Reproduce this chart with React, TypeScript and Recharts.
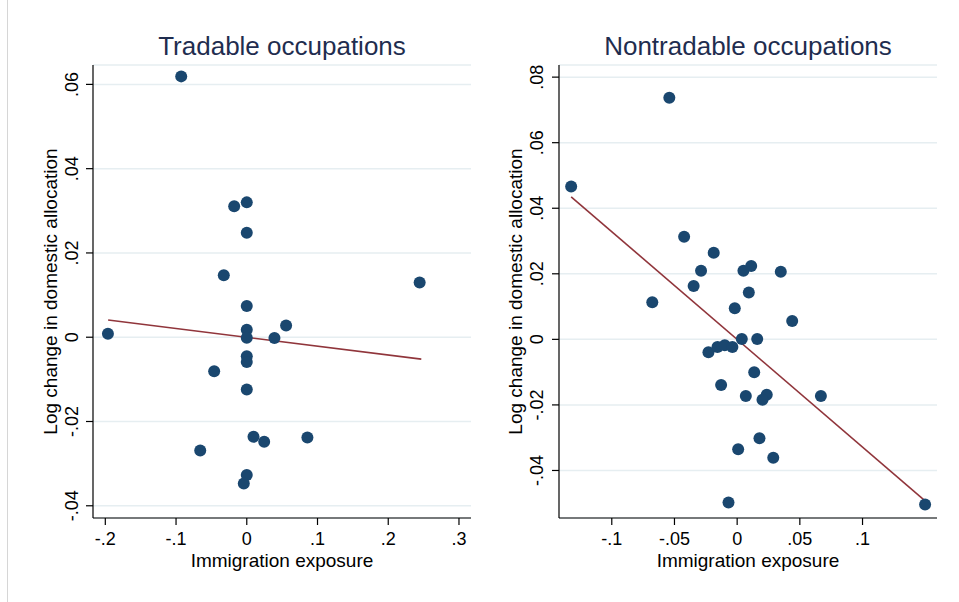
import React from "react";
import { ScatterChart, Scatter, XAxis, YAxis, CartesianGrid } from "recharts";

// Tradable occupations: immigration exposure vs. log change in domestic allocation
const tradableExposure = [
  -0.0927, -0.0178, 0, 0, -0.0325, 0.2444, 0, -0.1963, 0, 0.0556, 0,
  0.0391, 0, 0, -0.0461, 0, 0.0095, 0.0246, 0.0857, -0.0658, 0, -0.0042,
];
const tradableChange = [
  0.0619, 0.0311, 0.032, 0.0248, 0.0147, 0.013, 0.0074, 0.0008, 0.0018, 0.0028, -0.0001,
  -0.0002, -0.0045, -0.0059, -0.0081, -0.0124, -0.0236, -0.0248, -0.0238, -0.0269, -0.0327, -0.0347,
];
const tradableFitX = [-0.196, 0.2467];
const tradableFitY = [0.0041, -0.0052];
const tradableXTicks = [-0.2, -0.1, 0, 0.1, 0.2, 0.3];
const tradableYTicks = [-0.04, -0.02, 0, 0.02, 0.04, 0.06];

// Nontradable occupations
const nontradableExposure = [
  -0.0541, -0.1324, -0.0423, -0.0187, -0.0288, 0.005, 0.0112, 0.0348, -0.0347, 0.0093,
  -0.0677, -0.0019, 0.0439, 0.0037, 0.016, -0.0229, -0.0157, -0.0099, -0.0038, 0.0136,
  -0.0128, 0.0069, 0.0236, 0.0202, 0.0668, 0.0178, 0.0008, 0.0288, -0.0069, 0.1499,
];
const nontradableChange = [
  0.0737, 0.0466, 0.0313, 0.0264, 0.0209, 0.0209, 0.0224, 0.0206, 0.0163, 0.0143,
  0.0113, 0.0095, 0.0056, 0.0001, 0.0001, -0.0039, -0.0023, -0.0018, -0.0023, -0.01,
  -0.0139, -0.0173, -0.0169, -0.0184, -0.0173, -0.0302, -0.0335, -0.0361, -0.0498, -0.0504,
];
const nontradableFitX = [-0.1324, 0.149];
const nontradableFitY = [0.0435, -0.049];
const nontradableXTicks = [-0.1, -0.05, 0, 0.05, 0.1];
const nontradableYTicks = [-0.04, -0.02, 0, 0.02, 0.04, 0.06, 0.08];

const FONT = "'Liberation Sans', Arial, Helvetica, sans-serif";
const NAVY = "#1a476f";
const MAROON = "#90353b";

const pairs = (xs: number[], ys: number[]) => xs.map((x, i) => ({ x, y: ys[i] }));

// Stata-style labels: drop the leading zero ("-.2", ".04")
const fmt = (v: number) => (v === 0 ? "0" : String(v).replace("0.", "."));

const Dot = (props: any) => <circle cx={props.cx} cy={props.cy} r={6} fill={NAVY} />;
const NoDot = () => <g />;

const YTick = ({ x, y, payload }: any) => (
  <text
    x={x}
    y={y}
    transform={`rotate(-90, ${x}, ${y})`}
    textAnchor="middle"
    fontSize={18}
    fontFamily={FONT}
    fill="#000"
  >
    {fmt(payload.value)}
  </text>
);

interface PanelProps {
  width: number;
  yAxisWidth: number;
  marginRight: number;
  xDomain: [number, number];
  yDomain: [number, number];
  xTicks: number[];
  yTicks: number[];
  points: { x: number; y: number }[];
  fit: { x: number; y: number }[];
  yLabelX: number;
  yTickMargin: number;
}

const Panel: React.FC<PanelProps> = (p) => (
  <ScatterChart
    width={p.width}
    height={602}
    margin={{ top: 65, right: p.marginRight, bottom: 0, left: 0 }}
  >
    <CartesianGrid horizontal vertical={false} stroke="#e6eef1" strokeWidth={1.5} />
    <XAxis
      type="number"
      dataKey="x"
      domain={p.xDomain}
      ticks={p.xTicks}
      allowDataOverflow
      height={84}
      tickSize={7}
      tickMargin={7}
      tickFormatter={fmt}
      axisLine={{ stroke: "#000", strokeWidth: 1.2 }}
      tickLine={{ stroke: "#000", strokeWidth: 1.2 }}
      tick={{ fontSize: 18, fontFamily: FONT, fill: "#000" }}
      label={(lp: any) => {
        const vb = lp.viewBox;
        return (
          <text
            x={vb.x + vb.width / 2}
            y={567}
            textAnchor="middle"
            fontSize={19}
            fontFamily={FONT}
            fill="#000"
          >
            Immigration exposure
          </text>
        );
      }}
    />
    <YAxis
      type="number"
      dataKey="y"
      domain={p.yDomain}
      ticks={p.yTicks}
      allowDataOverflow
      width={p.yAxisWidth}
      tickSize={7}
      tickMargin={p.yTickMargin}
      axisLine={{ stroke: "#000", strokeWidth: 1.2 }}
      tickLine={{ stroke: "#000", strokeWidth: 1.2 }}
      tick={<YTick />}
      label={(lp: any) => {
        const vb = lp.viewBox;
        const cy = vb.y + vb.height / 2;
        return (
          <text
            x={p.yLabelX}
            y={cy}
            transform={`rotate(-90, ${p.yLabelX}, ${cy})`}
            textAnchor="middle"
            fontSize={19}
            fontFamily={FONT}
            fill="#000"
          >
            Log change in domestic allocation
          </text>
        );
      }}
    />
    <Scatter
      data={p.fit}
      shape={NoDot}
      line={{ stroke: MAROON, strokeWidth: 1.6 }}
      isAnimationActive={false}
    />
    <Scatter data={p.points} shape={Dot} isAnimationActive={false} />
  </ScatterChart>
);

export default function App() {
  return (
    <div
      style={{
        position: "absolute",
        left: 0,
        top: 0,
        width: 959,
        height: 602,
        background: "#fff",
        overflow: "hidden",
      }}
    >
      <div style={{ position: "absolute", left: 0, top: 0 }}>
        <Panel
          width={480}
          yAxisWidth={93}
          marginRight={9}
          xDomain={[-0.2174, 0.317]}
          yDomain={[-0.0429, 0.0646]}
          xTicks={tradableXTicks}
          yTicks={tradableYTicks}
          points={pairs(tradableExposure, tradableChange)}
          fit={pairs(tradableFitX, tradableFitY)}
          yLabelX={56.5}
          yTickMargin={8}
        />
      </div>
      <div style={{ position: "absolute", left: 480, top: 0 }}>
        <Panel
          width={479}
          yAxisWidth={79}
          marginRight={22}
          xDomain={[-0.1421, 0.1594]}
          yDomain={[-0.0545, 0.0837]}
          xTicks={nontradableXTicks}
          yTicks={nontradableYTicks}
          points={pairs(nontradableExposure, nontradableChange)}
          fit={pairs(nontradableFitX, nontradableFitY)}
          yLabelX={41.5}
          yTickMargin={9}
        />
      </div>
      <svg
        width={959}
        height={602}
        style={{ position: "absolute", left: 0, top: 0, pointerEvents: "none" }}
      >
        <line x1={7.5} y1={0} x2={7.5} y2={602} stroke="#d6d6d6" strokeWidth={1} />
        <text x={282} y={55} textAnchor="middle" fontSize={26} fontFamily={FONT} fill="#1f2d4f">
          Tradable occupations
        </text>
        <text x={748} y={55} textAnchor="middle" fontSize={26} fontFamily={FONT} fill="#1f2d4f">
          Nontradable occupations
        </text>
      </svg>
    </div>
  );
}
